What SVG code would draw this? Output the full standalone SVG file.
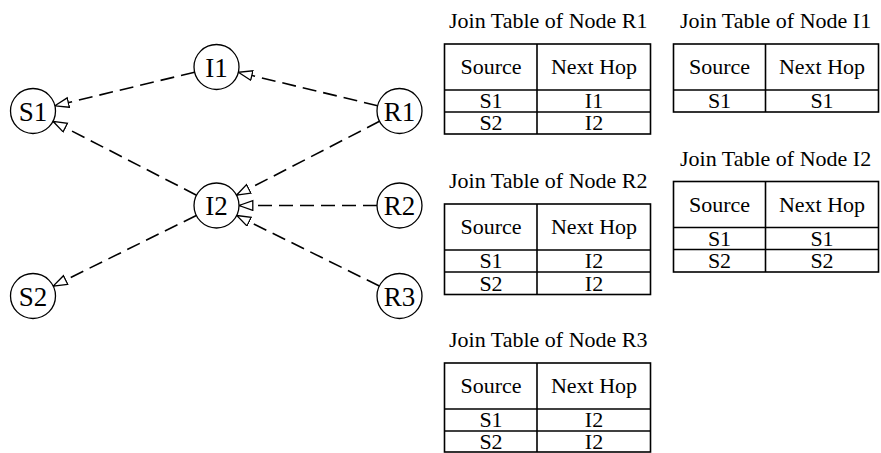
<svg xmlns="http://www.w3.org/2000/svg" width="881" height="453" viewBox="0 0 881 453">
  <defs>
    <marker id="open-arrow" markerUnits="userSpaceOnUse" markerWidth="16" markerHeight="12" refX="14.5" refY="5.5" orient="auto">
      <path d="M0.7,0.7 L14.5,5.5 L0.7,10.3 Z" fill="#fff" stroke="#000" stroke-width="1.3" stroke-linejoin="miter"/>
    </marker>
    <style>
      .node circle { fill: #fff; stroke: #000; stroke-width: 1.3; }
      .node text { font-family: "Liberation Serif", "Times New Roman", serif; font-size: 27px; fill: #000; text-anchor: middle; }
      .edge { fill: none; stroke: #000; stroke-width: 1.6; stroke-dasharray: 14 7; marker-end: url(#open-arrow); }
      .table rect, .table line { fill: none; stroke: #000; stroke-width: 1.6; }
      .table text { font-family: "Liberation Serif", "Times New Roman", serif; font-size: 22px; fill: #000; text-anchor: middle; }
      .table text.title { text-anchor: start; }
    </style>
  </defs>

  <!-- connectors -->
  <g id="connectors">
    <line class="edge" x1="194.6" y1="72.2" x2="54.9" y2="105.8"/>
    <line class="edge" x1="377.6" y1="105.7" x2="238.4" y2="72.3"/>
    <line class="edge" x1="196.5" y1="195.2" x2="53.0" y2="121.3"/>
    <line class="edge" x1="379.5" y1="121.3" x2="236.5" y2="195.2"/>
    <line class="edge" x1="377.0" y1="205.5" x2="239.0" y2="205.5"/>
    <line class="edge" x1="379.3" y1="286.0" x2="236.7" y2="215.5"/>
    <line class="edge" x1="196.3" y1="215.5" x2="53.2" y2="286.1"/>
  </g>

  <!-- nodes -->
  <g id="node-S1" class="node"><circle cx="33" cy="111" r="22.5"/><text x="33" y="120.5">S1</text></g>
  <g id="node-I1" class="node"><circle cx="216.5" cy="67" r="22.5"/><text x="216.5" y="76.5">I1</text></g>
  <g id="node-R1" class="node"><circle cx="399.5" cy="111" r="22.5"/><text x="399.5" y="120.5">R1</text></g>
  <g id="node-I2" class="node"><circle cx="216.5" cy="205.5" r="22.5"/><text x="216.5" y="215">I2</text></g>
  <g id="node-R2" class="node"><circle cx="399.5" cy="205.5" r="22.5"/><text x="399.5" y="215">R2</text></g>
  <g id="node-S2" class="node"><circle cx="33" cy="296" r="22.5"/><text x="33" y="305.5">S2</text></g>
  <g id="node-R3" class="node"><circle cx="399.5" cy="296" r="22.5"/><text x="399.5" y="305.5">R3</text></g>

  <!-- join table R1 -->
  <g id="table-R1" class="table">
    <text class="title" x="449" y="28">Join Table of Node R1</text>
    <rect x="444.5" y="44" width="206" height="90"/>
    <line x1="537" y1="44" x2="537" y2="134"/>
    <line x1="444.5" y1="90" x2="650.5" y2="90"/>
    <line x1="444.5" y1="112" x2="650.5" y2="112"/>
    <text x="491" y="74">Source</text><text x="594" y="74">Next Hop</text>
    <text x="491" y="108">S1</text><text x="594" y="108">I1</text>
    <text x="491" y="130">S2</text><text x="594" y="130">I2</text>
  </g>

  <!-- join table I1 -->
  <g id="table-I1" class="table">
    <text class="title" x="680" y="28">Join Table of Node I1</text>
    <rect x="673.5" y="44" width="205" height="68"/>
    <line x1="765.5" y1="44" x2="765.5" y2="112"/>
    <line x1="673.5" y1="90" x2="878.5" y2="90"/>
    <text x="719.5" y="74">Source</text><text x="822" y="74">Next Hop</text>
    <text x="719.5" y="108">S1</text><text x="822" y="108">S1</text>
  </g>

  <!-- join table I2 -->
  <g id="table-I2" class="table">
    <text class="title" x="680" y="166">Join Table of Node I2</text>
    <rect x="673.5" y="181.5" width="205" height="90.5"/>
    <line x1="765.5" y1="181.5" x2="765.5" y2="272"/>
    <line x1="673.5" y1="227.5" x2="878.5" y2="227.5"/>
    <line x1="673.5" y1="249.5" x2="878.5" y2="249.5"/>
    <text x="719.5" y="211.5">Source</text><text x="822" y="211.5">Next Hop</text>
    <text x="719.5" y="245.5">S1</text><text x="822" y="245.5">S1</text>
    <text x="719.5" y="268">S2</text><text x="822" y="268">S2</text>
  </g>

  <!-- join table R2 -->
  <g id="table-R2" class="table">
    <text class="title" x="449" y="188">Join Table of Node R2</text>
    <rect x="444.5" y="204" width="206" height="90.5"/>
    <line x1="537" y1="204" x2="537" y2="294.5"/>
    <line x1="444.5" y1="250" x2="650.5" y2="250"/>
    <line x1="444.5" y1="272" x2="650.5" y2="272"/>
    <text x="491" y="234">Source</text><text x="594" y="234">Next Hop</text>
    <text x="491" y="268">S1</text><text x="594" y="268">I2</text>
    <text x="491" y="290.5">S2</text><text x="594" y="290.5">I2</text>
  </g>

  <!-- join table R3 -->
  <g id="table-R3" class="table">
    <text class="title" x="449" y="347">Join Table of Node R3</text>
    <rect x="444.5" y="363" width="206" height="89"/>
    <line x1="537" y1="363" x2="537" y2="452"/>
    <line x1="444.5" y1="409" x2="650.5" y2="409"/>
    <line x1="444.5" y1="431" x2="650.5" y2="431"/>
    <text x="491" y="393">Source</text><text x="594" y="393">Next Hop</text>
    <text x="491" y="427">S1</text><text x="594" y="427">I2</text>
    <text x="491" y="448.5">S2</text><text x="594" y="448.5">I2</text>
  </g>
</svg>
